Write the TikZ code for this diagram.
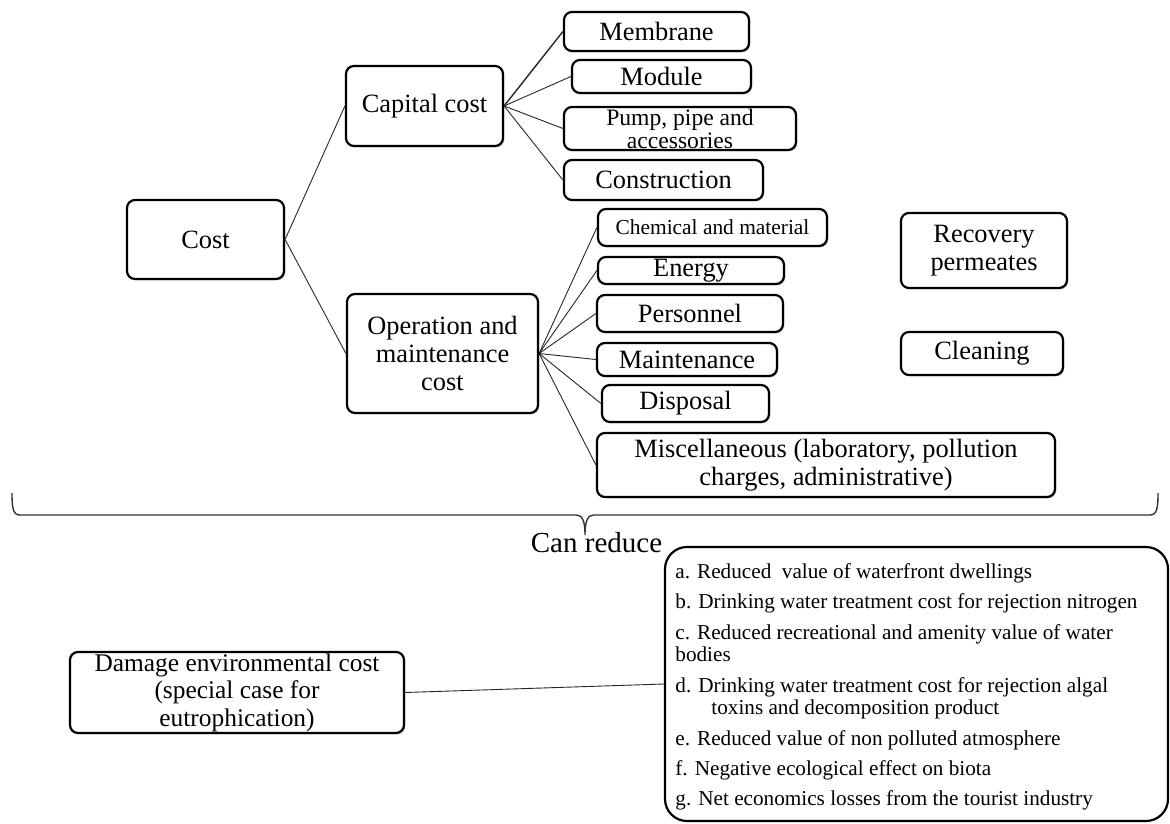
\documentclass[tikz,border=0pt]{standalone}
\usepackage{fontspec}
\setmainfont{Liberation Serif}
\usetikzlibrary{shadows}
\begin{document}
\begin{tikzpicture}[x=0.5pt,y=-0.5pt,
  box/.style={draw=black, line width=1.1pt, rounded corners=4pt, fill=white,
    inner sep=0pt, align=center,
    drop shadow={shadow xshift=0.7pt, shadow yshift=-0.7pt, fill=black!30, opacity=0.6},
    font=\fontsize{13.2}{14.2}\selectfont},
  conn/.style={draw=black!85, line width=0.45pt},
  item/.style={anchor=base west, inner sep=0pt, font=\fontsize{10.6}{12}\selectfont}]
\useasboundingbox (0,0) rectangle (1170,823);

% level 0 and 1
\node[box, minimum width=157*0.5pt, minimum height=79*0.5pt] (cost) at (205.5,239.5) {Cost};
\node[box, minimum width=157*0.5pt, minimum height=80*0.5pt] (capital) at (424.5,106) {Capital cost};
\node[box, minimum width=191*0.5pt, minimum height=119*0.5pt] (oper) at (442.5,353.5) {Operation and\\maintenance\\cost};

% capital cost items
\node[box, minimum width=185*0.5pt, minimum height=39*0.5pt] (membrane) at (656.5,31.5) {Membrane};
\node[box, minimum width=179*0.5pt, minimum height=33*0.5pt] (module) at (661.5,76.5) {Module};
\node[box, minimum width=232*0.5pt, minimum height=43*0.5pt,
  font=\fontsize{11.8}{11.5}\selectfont] (pump) at (680,128.5) {Pump, pipe and\\accessories};
\node[box, minimum width=199*0.5pt, minimum height=40*0.5pt] (construction) at (663.5,180) {Construction};

% operation items
\node[box, minimum width=229*0.5pt, minimum height=37*0.5pt,
  font=\fontsize{10.7}{12}\selectfont] (chemical) at (712.5,227.5) {Chemical and material};
\node[box, minimum width=186*0.5pt, minimum height=27*0.5pt] (energy) at (691,270.5) {Energy};
\node[box, minimum width=186*0.5pt, minimum height=37*0.5pt] (personnel) at (690,313.5) {Personnel};
\node[box, minimum width=180*0.5pt, minimum height=33*0.5pt] (maintenance) at (687,359.5) {Maintenance};
\node[box, minimum width=167*0.5pt, minimum height=37*0.5pt] (disposal) at (685.5,403.5) {Disposal};
\node[box, minimum width=458*0.5pt, minimum height=64*0.5pt] (misc) at (826,465) {Miscellaneous (laboratory, pollution\\charges, administrative)};

% right boxes
\node[box, minimum width=166*0.5pt, minimum height=75*0.5pt] (recovery) at (984,250.5) {Recovery\\permeates};
\node[box, minimum width=162*0.5pt, minimum height=43*0.5pt] (cleaning) at (982,353.5) {Cleaning};

% connectors
\draw[conn] (cost.east) -- (capital.west);
\draw[conn] (cost.east) -- (oper.west);
\draw[conn, line width=0.7pt] (capital.east) -- (membrane.west);
\foreach \t in {module,pump,construction}
  \draw[conn] (capital.east) -- (\t.west);
\foreach \t in {chemical,energy,personnel,maintenance,disposal,misc}
  \draw[conn] (oper.east) -- (\t.west);

% brace
\coordinate (bl) at (12,493);
\coordinate (br) at (1158,493);
\coordinate (btip) at (585,535);
\draw[line width=0.7pt, draw=black!80] (bl) .. controls (12,508) and (13,515) .. (20,515)
  -- (576,515) .. controls (582,515) and (585,520) .. (btip)
  .. controls (585,520) and (588,515) .. (594,515)
  -- (1150,515) .. controls (1157,515) and (1158,508) .. (br);
\node[inner sep=0pt, font=\fontsize{14.5}{16}\selectfont] (canreduce) at (596.5,543) {Can reduce};

% bottom
\node[box, minimum width=334*0.5pt, minimum height=81*0.5pt,
  font=\fontsize{12.7}{13.7}\selectfont] (damage) at (237,692.5) {Damage environmental cost\\(special case for\\eutrophication)};
\node[draw=black, line width=1.1pt, rounded corners=11pt, inner sep=0pt,
  minimum width=503*0.5pt, minimum height=274*0.5pt] (list) at (916.5,684) {};
\draw[conn] (damage.east) -- (list.west);

\node[item] (ia) at (675,578) {a. Reduced\ \ value of waterfront dwellings};
\node[item] (ib) at (675,608) {b. Drinking water treatment cost for rejection nitrogen};
\node[item] (ic) at (675,639) {c. Reduced recreational and amenity value of water};
\node[item] (ic2) at (675,661) {bodies};
\node[item] (id) at (675,692) {d. Drinking water treatment cost for rejection algal};
\node[item] (id2) at (711,714) {toxins and decomposition product};
\node[item] (ie) at (675,745) {e. Reduced value of non polluted atmosphere};
\node[item] (if) at (675,775) {f. Negative ecological effect on biota};
\node[item] (ig) at (675,805) {g. Net economics losses from the tourist industry};
\end{tikzpicture}
\end{document}
